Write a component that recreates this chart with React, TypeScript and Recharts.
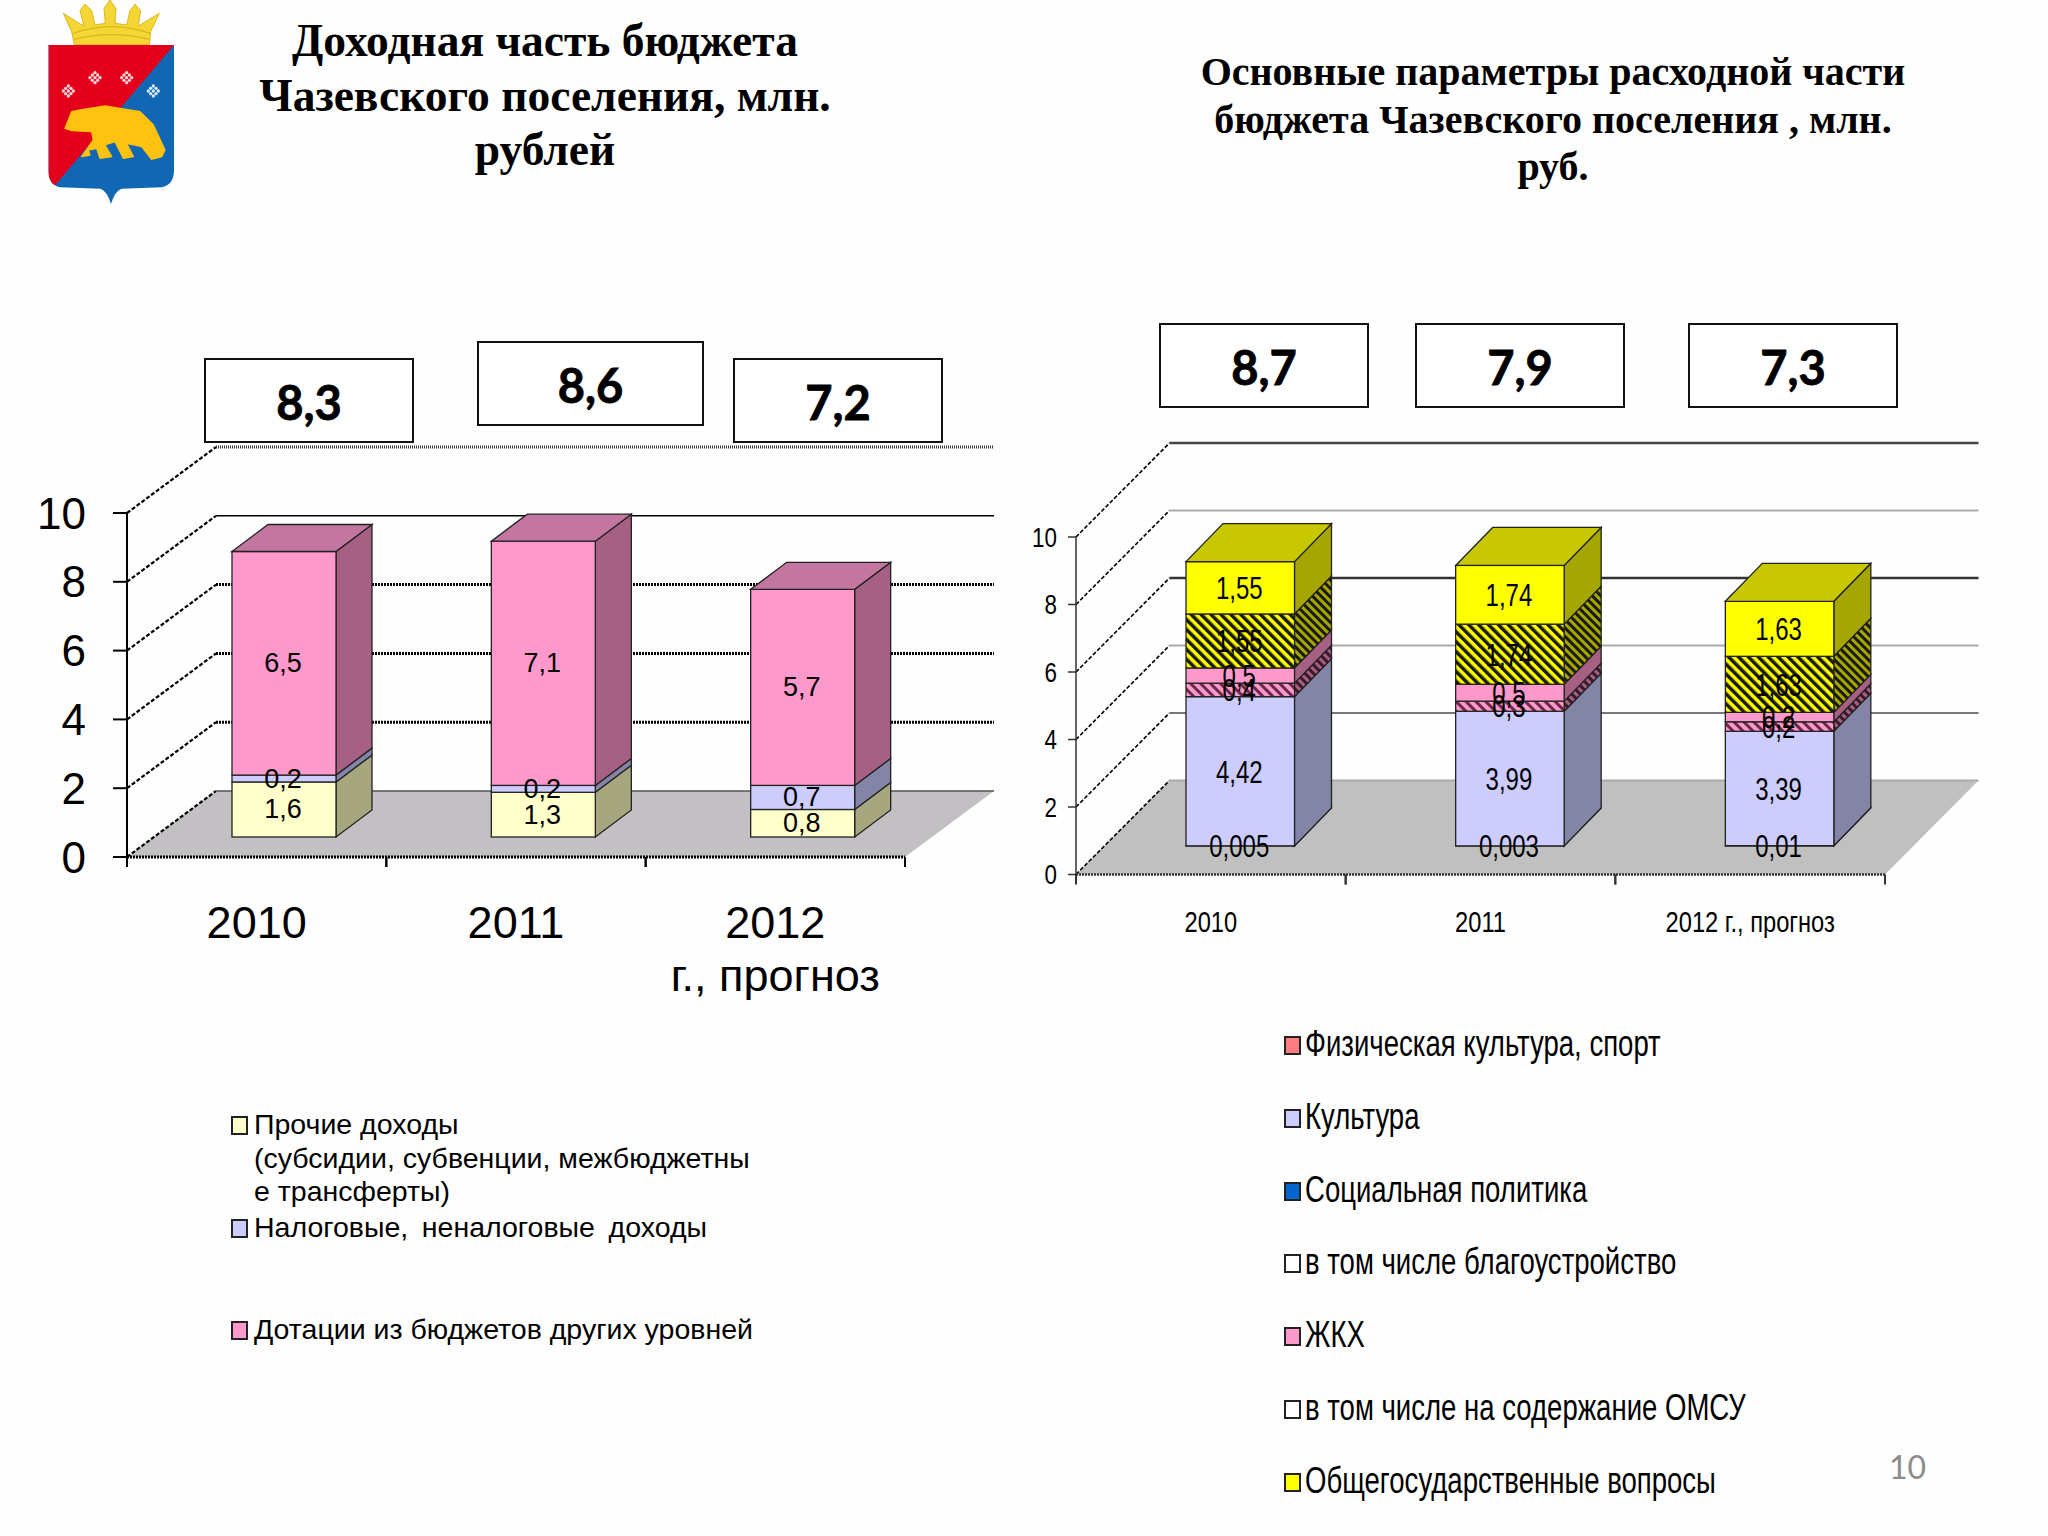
import { BarChart, Bar, XAxis, YAxis, CartesianGrid, LabelList } from "recharts";

// left chart: income
const incomeYears = ["2010", "2011", "2012\nг., прогноз"];
const otherIncome = [1.6, 1.3, 0.8];
const taxIncome = [0.2, 0.2, 0.7];
const grants = [6.5, 7.1, 5.7];
const incomeTotals = ["8,3", "8,6", "7,2"];

// right chart: expenses
const expenseYears = ["2010", "2011", "2012 г., прогноз"];
const sport = [0.005, 0.003, 0.01];
const culture = [4.42, 3.99, 3.39];
const social = [0, 0, 0];
const improvement = [0.4, 0.3, 0.28];
const housing = [0.45, 0.5, 0.28];
const admin = [1.6, 1.78, 1.66];
const general = [1.55, 1.74, 1.63];
const improvementText = ["0,4", "0,3", "0,2"];
const housingText = ["0,5", "0,5", "0,2"];
const adminText = ["1,55", "1,74", "1,63"];
const expenseTotals = ["8,7", "7,9", "7,3"];

const yTicks = [0, 2, 4, 6, 8, 10];

const incomeLegend = [
  { color: "#FFFFCC", lines: ["Прочие доходы", "(субсидии, субвенции, межбюджетны", "е трансферты)"] },
  { color: "#CCCCFF", lines: ["Налоговые, \u2009неналоговые \u2009доходы"] },
  { color: "#FF99CC", lines: ["Дотации из бюджетов других уровней"] },
];
const incomeLegendTop = [1125, 1228, 1330];

const expenseLegend = [
  { color: "#FF7C80", name: "Физическая культура, спорт" },
  { color: "#CCCCFF", name: "Культура" },
  { color: "#0066CC", name: "Социальная политика" },
  { color: "#FFFFFF", name: "в том числе благоустройство" },
  { color: "#FF99CC", name: "ЖКХ" },
  { color: "#FFFFFF", name: "в том числе на содержание ОМСУ" },
  { color: "#FFFF00", name: "Общегосударственные вопросы" },
];
const expenseLegendTop = [1044, 1117, 1190, 1262, 1335, 1408, 1481];

const incomeData = incomeYears.map((year, i) => ({
  year,
  other: otherIncome[i],
  tax: taxIncome[i],
  grant: grants[i],
}));

const expenseData = expenseYears.map((year, i) => ({
  year,
  sport: sport[i],
  culture: culture[i],
  social: social[i],
  improvement: improvement[i],
  housing: housing[i],
  admin: admin[i],
  general: general[i],
  improvementText: improvementText[i],
  housingText: housingText[i],
  adminText: adminText[i],
}));

const ARIAL = "'Liberation Sans', Arial, sans-serif";

const leftGeom = { dx: 27, dy: 20, sideX: 36, sideY: 27, wallX: 89, wallY: 66 };
const rightGeom = { dx: 29, dy: 28.5, sideX: 37, sideY: 38, wallX: 93.5, wallY: 94 };

function Box(props: any) {
  const { x, y, width, height, geom, front, side, top, showTop } = props;
  if (props.value === 0 || (Array.isArray(props.value) && props.value[0] === props.value[1])) return null;
  const fx = x + geom.dx;
  const fy = y - geom.dy;
  const sx = geom.sideX;
  const sy = geom.sideY;
  return (
    <g stroke="#222" strokeWidth={1.3}>
      <polygon points={`${fx + width},${fy} ${fx + width + sx},${fy - sy} ${fx + width + sx},${fy + height - sy} ${fx + width},${fy + height}`} fill={side} />
      <rect x={fx} y={fy} width={width} height={height} fill={front} />
      {showTop && (
        <polygon points={`${fx},${fy} ${fx + sx},${fy - sy} ${fx + width + sx},${fy - sy} ${fx + width},${fy}`} fill={top} />
      )}
    </g>
  );
}

// text squeezed horizontally, the right chart uses a narrow font that is not installed
function Squeezed({ x, y, scale = 1, fontSize, anchor = "middle", children }: any) {
  return (
    <text
      transform={`translate(${x} ${y}) scale(${scale} 1)`}
      textAnchor={anchor}
      dominantBaseline="central"
      fontSize={fontSize}
      fontFamily={ARIAL}
      fill="#000"
    >
      {children}
    </text>
  );
}

function segLabel(geom: any, fontSize: number, scale: number, dec: boolean) {
  return (props: any) => {
    const box = props.viewBox && props.viewBox.width !== undefined ? props.viewBox : props;
    const val = props.value;
    if (val === undefined || val === null || val === 0) return null;
    const text = dec ? String(val).replace(".", ",") : String(val);
    return (
      <Squeezed x={box.x + geom.dx + box.width / 2 - 1} y={box.y - geom.dy + box.height / 2} fontSize={fontSize} scale={scale}>
        {text}
      </Squeezed>
    );
  };
}

function gridLine(geom: any, styles: any[], fill: string) {
  return (props: any) => {
    const { x1, x2, y1, index } = props;
    const s = styles[index];
    const backY = y1 - geom.wallY;
    return (
      <g key={index}>
        {index === 0 && (
          <polygon points={`${x1},${y1} ${x2},${y1} ${x2 + geom.wallX},${backY} ${x1 + geom.wallX},${backY}`} fill={fill} />
        )}
        <line x1={x1} y1={y1} x2={x1 + geom.wallX} y2={backY} stroke="#000" strokeWidth={s.diag} strokeDasharray="4 2" />
        <line x1={x1 + geom.wallX} y1={backY} x2={x2 + geom.wallX} y2={backY} stroke={s.color} strokeWidth={s.width} strokeDasharray={s.dash} />
      </g>
    );
  };
}

function yearTick(fontSize: number, scale: number, band: number, firstLine: number, lineGap: number, markLen: number, stroke: string) {
  return (props: any) => {
    const { x, y, payload } = props;
    const lines = String(payload.value).split("\n");
    return (
      <g>
        <line x1={x - band / 2} y1={y} x2={x - band / 2} y2={y + markLen} stroke={stroke} strokeWidth={2} />
        <line x1={x + band / 2} y1={y} x2={x + band / 2} y2={y + markLen} stroke={stroke} strokeWidth={2} />
        {lines.map((t, i) => (
          <Squeezed key={i} x={x} y={y + firstLine + i * lineGap} fontSize={fontSize} scale={scale}>
            {t}
          </Squeezed>
        ))}
      </g>
    );
  };
}

function valueTick(fontSize: number, scale: number) {
  return (props: any) => (
    <Squeezed x={props.x} y={props.y} fontSize={fontSize} scale={scale} anchor="end">
      {props.payload.value}
    </Squeezed>
  );
}

function TotalBox({ left, top, width = 206, text }: { left: number; top: number; width?: number; text: string }) {
  return (
    <div
      style={{
        position: "absolute",
        left,
        top,
        width,
        height: 81,
        border: "2px solid #111",
        background: "#fff",
        display: "flex",
        alignItems: "center",
        justifyContent: "center",
        fontFamily: "Lato, sans-serif",
        fontWeight: 700,
        fontSize: 47,
        lineHeight: "81px",
        WebkitTextStroke: "0.8px #000",
        color: "#000",
      }}
    >
      <span style={{ position: "relative", top: 2 }}>{text}</span>
    </div>
  );
}

function Title({ lines, center, top, fontSize, lineHeight }: any) {
  return (
    <div
      style={{
        position: "absolute",
        left: center - 450,
        width: 900,
        top,
        textAlign: "center",
        fontFamily: "'Liberation Serif', serif",
        fontWeight: 700,
        fontSize,
        lineHeight: `${lineHeight}px`,
        color: "#000",
      }}
    >
      {lines.map((l: string) => (
        <div key={l}>{l}</div>
      ))}
    </div>
  );
}

function Swatch({ left, top, color }: any) {
  return (
    <div
      style={{
        position: "absolute",
        left,
        top: top - 8,
        width: 13,
        height: 15,
        background: color,
        border: "2px solid #222",
      }}
    />
  );
}

function Emblem() {
  const flakes = [
    [115, 273, "#F6D8D8"],
    [195, 233, "#F6D8D8"],
    [290, 233, "#F6D8D8"],
    [370, 273, "#DCE8F5"],
  ];
  const flakeDots = [[0, 0], [-8, -8], [8, -8], [-8, 8], [8, 8], [0, -15], [0, 15], [-15, 0], [15, 0]];
  const shield = "M55 135 L432 135 L432 510 Q432 555 395 562 L275 566 Q255 572 243 612 Q231 572 211 566 L90 562 Q55 555 55 510 Z";
  return (
    <svg width={220} height={220} style={{ position: "absolute", left: 0, top: 0 }}>
      <defs>
        <clipPath id="shield">
          <path d={shield} />
        </clipPath>
      </defs>
      <g transform="translate(30 0) scale(0.3333)">
        <path
          d="M133 134 L125 95 L100 40 L140 65 L162 78 L150 32 L165 12 L185 32 L195 75 L226 70 L222 26 L240 0 L258 26 L255 70 L290 75 L300 32 L315 12 L332 32 L325 78 L388 40 L362 95 L358 134 Z"
          fill="#F5D634"
          stroke="#D9B820"
          strokeWidth={3}
        />
        <path d="M130 100 Q245 60 360 100 M133 118 Q245 90 358 118" fill="none" stroke="#D9B820" strokeWidth={4} />
        <g clipPath="url(#shield)">
          <rect x={40} y={120} width={410} height={500} fill="#1267B5" />
          <polygon points="55,135 432,135 75,556 55,556" fill="#E4001B" />
        </g>
        <path
          d="M105 385 L125 335 L150 330 L225 318 L330 335 L370 375 L405 450 L395 470 L365 478 L335 440 L290 430 L310 470 L280 475 L255 425 L225 435 L245 470 L210 475 L200 445 L175 450 L180 465 L155 470 L190 420 L185 395 L125 392 Z"
          fill="#FFC20E"
          stroke="#FFC20E"
          strokeWidth={4}
          strokeLinejoin="round"
        />
        {flakes.map(([x, y, c], i) => (
          <g key={i} fill={c as string}>
            {flakeDots.map(([ox, oy], j) => (
              <circle key={j} cx={(x as number) + ox} cy={(y as number) + oy} r={5} />
            ))}
          </g>
        ))}
      </g>
    </svg>
  );
}

// index 0 is the value 0, index 5 the value 10
const leftGridStyles = [
  { color: "#555", width: 1.5, dash: undefined, diag: 2.2 },
  { color: "#000", width: 3, dash: "2 1", diag: 2.2 },
  { color: "#000", width: 3, dash: "2 1", diag: 2.2 },
  { color: "#000", width: 3, dash: "2 1", diag: 2.2 },
  { color: "#000", width: 1.6, dash: undefined, diag: 2.2 },
  { color: "#333", width: 3, dash: "1 1", diag: 2.2 },
];
const rightGridStyles = [
  { color: "#aaa", width: 2, diag: 1.6 },
  { color: "#777", width: 2, diag: 1.6 },
  { color: "#aaa", width: 2, diag: 1.6 },
  { color: "#333", width: 2.5, diag: 1.6 },
  { color: "#aaa", width: 2, diag: 1.6 },
  { color: "#444", width: 2.5, diag: 1.6 },
];

export default function App() {
  return (
    <div style={{ position: "absolute", left: 0, top: 0, width: 2048, height: 1536, background: "#FEFEFE", overflow: "hidden" }}>
      <Emblem />
      <Title lines={["Доходная часть бюджета", "Чазевского поселения, млн.", "рублей"]} center={545} top={14} fontSize={45.5} lineHeight={54.5} />
      <Title lines={["Основные параметры расходной части", "бюджета Чазевского поселения , млн.", "руб."]} center={1553} top={48} fontSize={40} lineHeight={47.5} />

      <div style={{ position: "absolute", left: 0, top: 420 }}>
        <BarChart width={1020} height={600} data={incomeData} margin={{ top: 93, right: 115, bottom: 0, left: 0 }} barSize={104}>
          <CartesianGrid vertical={false} horizontal={gridLine(leftGeom, leftGridStyles, "#C2C0C3") as any} />
          <XAxis dataKey="year" height={163} tickSize={0} tickMargin={0} interval={0} axisLine={{ stroke: "#000", strokeWidth: 3, strokeDasharray: "2 1" }} tick={yearTick(45, 1, 259.3, 65, 53, 10, "#000") as any} />
          <YAxis type="number" width={127} domain={[0, 10]} ticks={yTicks} tickSize={14} tickMargin={27} stroke="#000" strokeWidth={2} tick={{ fontSize: 44, fontFamily: ARIAL, fill: "#000" }} />
          <Bar dataKey="other" stackId="a" isAnimationActive={false} shape={(p: any) => <Box {...p} geom={leftGeom} front="#FFFFCC" side="#A6A67F" />}>
            <LabelList dataKey="other" content={segLabel(leftGeom, 27, 1, true)} />
          </Bar>
          <Bar dataKey="tax" stackId="a" isAnimationActive={false} shape={(p: any) => <Box {...p} geom={leftGeom} front="#CCCCFF" side="#8484A6" />}>
            <LabelList dataKey="tax" content={segLabel(leftGeom, 27, 1, true)} />
          </Bar>
          <Bar dataKey="grant" stackId="a" isAnimationActive={false} shape={(p: any) => <Box {...p} geom={leftGeom} front="#FF99CC" side="#A66084" top="#C3769F" showTop />}>
            <LabelList dataKey="grant" content={segLabel(leftGeom, 27, 1, true)} />
          </Bar>
        </BarChart>
      </div>

      <div style={{ position: "absolute", left: 1024, top: 420 }}>
        <BarChart width={1024} height={560} data={expenseData} margin={{ top: 117, right: 163, bottom: 0, left: 0 }} barSize={108.5}>
          <defs>
            <pattern id="hatchYellow" width="7" height="7" patternUnits="userSpaceOnUse" patternTransform="rotate(-45)">
              <rect width="7" height="7" fill="#FFFF00" />
              <rect width="3.5" height="7" fill="#1a1a00" />
            </pattern>
            <pattern id="hatchYellowSide" width="6" height="6" patternUnits="userSpaceOnUse" patternTransform="rotate(-45)">
              <rect width="6" height="6" fill="#A6A600" />
              <rect width="3" height="6" fill="#1a1a00" />
            </pattern>
            <pattern id="hatchPink" width="7" height="7" patternUnits="userSpaceOnUse" patternTransform="rotate(-45)">
              <rect width="7" height="7" fill="#FF99CC" />
              <rect width="3" height="7" fill="#6a2a4a" />
            </pattern>
            <pattern id="hatchPinkSide" width="6" height="6" patternUnits="userSpaceOnUse" patternTransform="rotate(-45)">
              <rect width="6" height="6" fill="#A66084" />
              <rect width="3" height="6" fill="#3a1a2a" />
            </pattern>
          </defs>
          <CartesianGrid vertical={false} horizontal={gridLine(rightGeom, rightGridStyles, "#C0C0C0") as any} />
          <XAxis dataKey="year" height={105.5} tickSize={0} tickMargin={0} interval={0} axisLine={{ stroke: "#333", strokeWidth: 2.5, strokeDasharray: "2 1" }} tick={yearTick(29, 0.816, 269.7, 48, 0, 10, "#333") as any} />
          <YAxis type="number" width={52} domain={[0, 10]} ticks={yTicks} tickSize={8} tickMargin={11} stroke="#333" strokeWidth={1.5} tick={valueTick(28, 0.8) as any} />
          <Bar dataKey="sport" stackId="a" isAnimationActive={false} shape={(p: any) => <Box {...p} geom={rightGeom} front="#FF7C80" side="#A65154" />}>
            <LabelList dataKey="sport" content={segLabel(rightGeom, 32, 0.75, true)} />
          </Bar>
          <Bar dataKey="culture" stackId="a" isAnimationActive={false} shape={(p: any) => <Box {...p} geom={rightGeom} front="#CCCCFF" side="#8484A6" />}>
            <LabelList dataKey="culture" content={segLabel(rightGeom, 32, 0.75, true)} />
          </Bar>
          <Bar dataKey="social" stackId="a" isAnimationActive={false} shape={(p: any) => <Box {...p} geom={rightGeom} front="#0066CC" side="#004285" />} />
          <Bar dataKey="improvement" stackId="a" isAnimationActive={false} shape={(p: any) => <Box {...p} geom={rightGeom} front="url(#hatchPink)" side="url(#hatchPinkSide)" />}>
            <LabelList dataKey="improvementText" content={segLabel(rightGeom, 32, 0.75, false)} />
          </Bar>
          <Bar dataKey="housing" stackId="a" isAnimationActive={false} shape={(p: any) => <Box {...p} geom={rightGeom} front="#FF99CC" side="#A66084" />}>
            <LabelList dataKey="housingText" content={segLabel(rightGeom, 32, 0.75, false)} />
          </Bar>
          <Bar dataKey="admin" stackId="a" isAnimationActive={false} shape={(p: any) => <Box {...p} geom={rightGeom} front="url(#hatchYellow)" side="url(#hatchYellowSide)" />}>
            <LabelList dataKey="adminText" content={segLabel(rightGeom, 32, 0.75, false)} />
          </Bar>
          <Bar dataKey="general" stackId="a" isAnimationActive={false} shape={(p: any) => <Box {...p} geom={rightGeom} front="#FFFF00" side="#A6A600" top="#C8C800" showTop />}>
            <LabelList dataKey="general" content={segLabel(rightGeom, 32, 0.75, true)} />
          </Bar>
        </BarChart>
      </div>

      <TotalBox left={204} top={358} text={incomeTotals[0]} />
      <TotalBox left={477} top={341} width={223} text={incomeTotals[1]} />
      <TotalBox left={733} top={358} text={incomeTotals[2]} />
      <TotalBox left={1159} top={323} text={expenseTotals[0]} />
      <TotalBox left={1415} top={323} text={expenseTotals[1]} />
      <TotalBox left={1688} top={323} text={expenseTotals[2]} />

      {incomeLegend.map((item, i) => (
        <div key={i}>
          <Swatch left={231} top={incomeLegendTop[i] - 1} color={item.color} />
          <div style={{ position: "absolute", left: 254, top: incomeLegendTop[i] - 17, fontFamily: ARIAL, fontSize: 28.5, lineHeight: "33.5px", color: "#000", whiteSpace: "pre" }}>
            {item.lines.map((l) => (
              <div key={l}>{l}</div>
            ))}
          </div>
        </div>
      ))}

      {expenseLegend.map((item, i) => (
        <div key={i}>
          <Swatch left={1284} top={expenseLegendTop[i]} color={item.color} />
          <div style={{ position: "absolute", left: 1305, top: expenseLegendTop[i] - 21, fontFamily: ARIAL, fontSize: 36, lineHeight: "42px", color: "#000", whiteSpace: "pre", transform: "scaleX(0.765)", transformOrigin: "left center" }}>
            {item.name}
          </div>
        </div>
      ))}

      <div style={{ position: "absolute", left: 1889, top: 1447, fontFamily: "Lato, sans-serif", fontSize: 32, color: "#8C8C8C" }}>10</div>
    </div>
  );
}
